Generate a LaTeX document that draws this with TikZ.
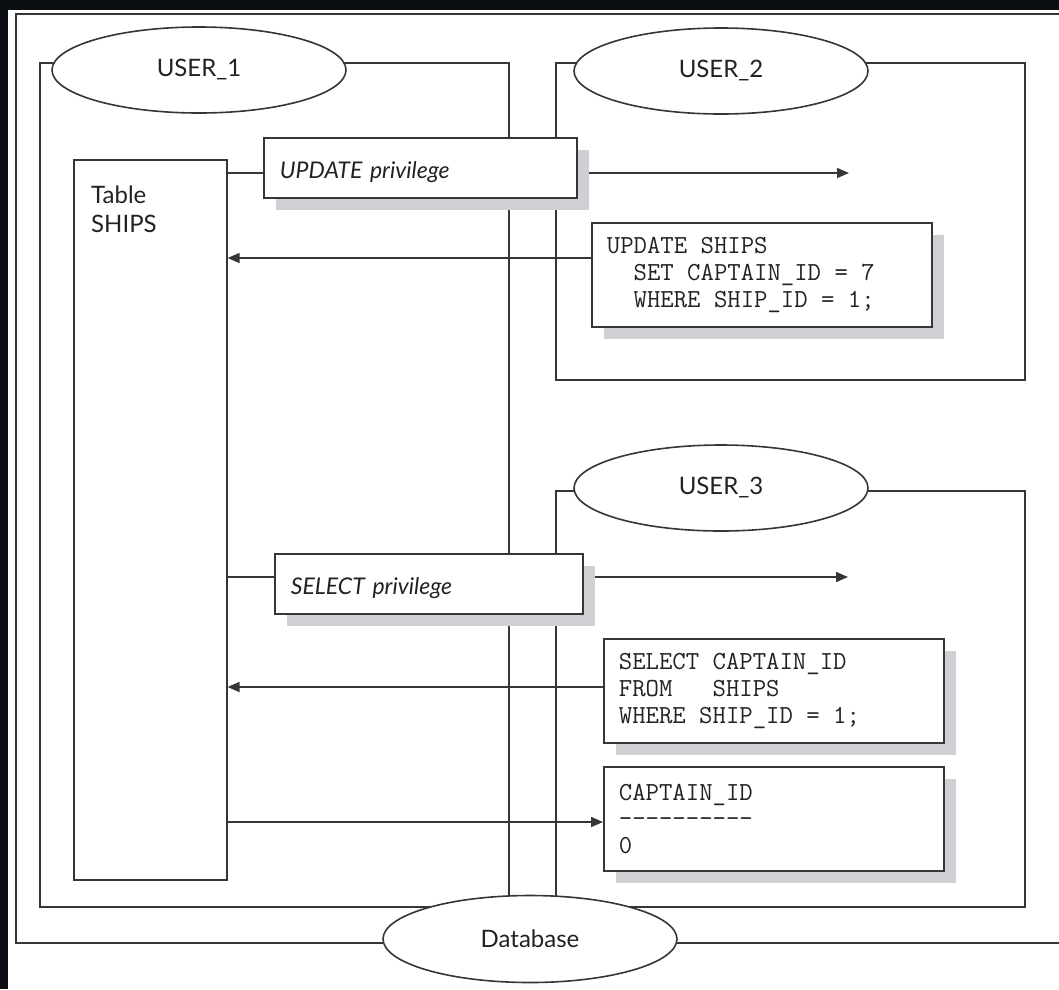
\documentclass[tikz,border=0pt]{standalone}
\usepackage{fontspec}
\setmainfont{Lato}
\usetikzlibrary{shapes.geometric,shadows,arrows.meta}
\definecolor{ink}{HTML}{363636}
\definecolor{txt}{HTML}{222222}
\definecolor{shade}{HTML}{CFD0D3}
\definecolor{page}{HTML}{0B0E13}
% one fixed-width blank in the code listings
\newcommand{\tsp}{\hphantom{x}}
\pgfdeclarelayer{under}
\pgfsetlayers{under,main}
\begin{document}
\begin{tikzpicture}[x=1pt,y=-1pt,
  frame/.style={draw=ink,line width=1.6pt},
  conn/.style={draw=ink,line width=1.6pt},
  arrow/.style={conn,-{Triangle[length=12pt,width=10pt]}},
  user/.style={ellipse,draw=ink,line width=1.6pt,fill=white,
    minimum width=294pt,minimum height=86pt,inner sep=0pt,
    text=txt,font=\fontsize{24}{28}\selectfont},
  boxshadow/.style={drop shadow={shadow xshift=12pt,shadow yshift=-12pt,
    fill=shade,opacity=1}},
  privbox/.style={rectangle,draw=ink,line width=1.8pt,fill=white,
    anchor=north west,minimum height=60pt,inner xsep=16pt,inner ysep=0pt,
    text height=24pt,text depth=2pt,align=left,text=txt,
    font=\fontsize{23}{27}\selectfont\itshape,boxshadow},
  codebox/.style={rectangle,draw=ink,line width=1.8pt,fill=white,
    anchor=north west,minimum height=104pt,inner xsep=15pt,
    text width=310pt,align=left,text=txt,
    font=\fontsize{26}{26.7}\selectfont\ttfamily,boxshadow},
  tablebox/.style={rectangle,draw=ink,line width=1.6pt,fill=white,
    anchor=north west,minimum width=153pt,minimum height=720pt,inner sep=0pt},
  lbl/.style={text=txt,font=\fontsize{24}{29}\selectfont,inner sep=0pt,align=left}
]
\useasboundingbox (0,0) rectangle (1059,989);

% user and database ovals
\node[user] (u1) at (199,70) {USER\_1};
\node[user] (u2) at (721,71) {USER\_2};
\node[user] (u3) at (721,488) {USER\_3};
\node[user,minimum height=87pt] (db) at (530,939) {Database};

% the table owned by USER_1
\node[tablebox] (table) at (73,159) {};
\node[lbl,anchor=north west] (tname) at (91,186) {Table\\SHIPS};

% granted privileges
\node[privbox,text width=281pt] (upd) at (263,137) {UPDATE privilege};
\node[privbox,text width=276pt] (sel) at (274,553) {SELECT privilege};

% statements and result
\node[codebox] (usql) at (591,222)
  {UPDATE\tsp SHIPS\\
   \tsp\tsp SET\tsp CAPTAIN\_ID\tsp=\tsp 7\\
   \tsp\tsp WHERE\tsp SHIP\_ID\tsp=\tsp 1;};
\node[codebox] (ssql) at (603,638)
  {SELECT\tsp CAPTAIN\_ID\\
   FROM\tsp\tsp\tsp SHIPS\\
   WHERE\tsp SHIP\_ID\tsp=\tsp 1;};
\node[codebox] (res) at (603,766)
  {CAPTAIN\_ID\\
   \mbox{-}\mbox{-}\mbox{-}\mbox{-}\mbox{-}\mbox{-}\mbox{-}\mbox{-}\mbox{-}\mbox{-}\\
   0};

% levels of the connectors
\coordinate (yU) at (0,173);
\coordinate (yUS) at (0,258);
\coordinate (yS) at (0,577);
\coordinate (ySS) at (0,687);
\coordinate (yR) at (0,822);
\coordinate (tipU) at (849,173);
\coordinate (tipS) at (848,577);

\begin{pgfonlayer}{under}
  \fill[page] (0,0) rectangle (1059,989);
  \fill[white] (8,10) rectangle (1059,989);
  % database, USER_1, USER_2 and USER_3 frames
  \draw[frame] (1059,14) -- (16,14) -- (16,943) -- (1059,943);
  \draw[frame] (40,63) rectangle (509,907);
  \draw[frame] (556,63) rectangle (1025,380);
  \draw[frame] (556,491) rectangle (1025,907);
  % connectors
  \draw[conn] (table.east |- yU) -- (upd.west |- yU);
  \draw[arrow] (upd.east |- yU) -- (tipU);
  \draw[arrow] (usql.west |- yUS) -- (table.east |- yUS);
  \draw[conn] (table.east |- yS) -- (sel.west |- yS);
  \draw[arrow] (sel.east |- yS) -- (tipS);
  \draw[arrow] (ssql.west |- ySS) -- (table.east |- ySS);
  \draw[arrow] (table.east |- yR) -- (res.west |- yR);
\end{pgfonlayer}
\end{tikzpicture}
\end{document}
